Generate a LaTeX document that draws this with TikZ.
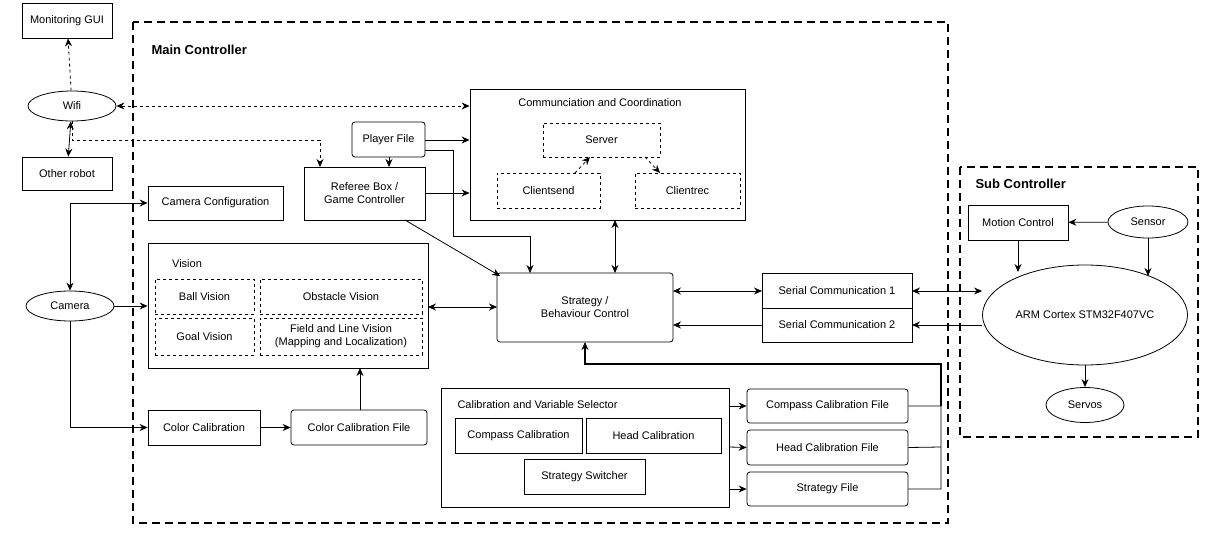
\documentclass[tikz,border=0pt]{standalone}
\usepackage{fontspec}
\setmainfont{Liberation Sans}
\usetikzlibrary{arrows.meta,shapes.geometric}
\begin{document}
\begin{tikzpicture}[x=1pt,y=-1pt,font=\fontsize{11}{13}\selectfont,
  bx/.style={draw,line width=0.8pt,inner sep=0pt},
  rbx/.style={bx,rounded corners=3pt},
  dbx/.style={draw,dashed,line width=0.6pt,inner sep=0pt},
  el/.style={draw,ellipse,line width=0.8pt,inner sep=0pt},
  ar/.style={-{Stealth[length=8pt,width=7pt]},line width=0.8pt},
  dar/.style={{Stealth[length=8pt,width=7pt]}-{Stealth[length=8pt,width=7pt]},line width=0.8pt},
  big/.style={draw,line width=1.5pt,dash pattern=on 8pt off 5pt}]
\useasboundingbox (0,0) rectangle (1221,545);
\def\R#1#2#3#4#5#6#7{\node[#1,minimum width={#4-#2},minimum height={#5-#3},align=center] (#6) at ({(#2+#4)/2},{(#3+#5)/2}) {#7};}
% containers
\draw[big] (133,22) rectangle (948,523);
\node[anchor=west,font=\fontsize{13}{15}\bfseries\selectfont] (mct) at (148,50) {Main Controller};
\draw[big] (960,167) rectangle (1198,437);
\node[anchor=west,font=\fontsize{13}{15}\bfseries\selectfont] (sct) at (972,184) {Sub Controller};
% left
\R{bx}{22}{3}{112}{38}{gui}{Monitoring GUI}
\node[el,minimum width=88,minimum height=30] (wifi) at (72,106) {Wifi};
\R{bx}{22}{157}{112}{190}{other}{Other robot}
\node[el,minimum width=88,minimum height=30] (cam) at (70,306) {Camera};
% main
\R{bx}{148}{186}{283}{220}{camcfg}{Camera Configuration}
\R{rbx}{352}{122}{425}{157}{player}{Player File}
\R{bx}{304}{167}{425}{220}{ref}{Referee Box /\\Game Controller}
\R{bx}{470}{89}{745}{220}{comm}{}
\node (commt) at (600,103) {Communciation and Coordination};
\R{dbx}{543}{123}{660}{157}{server}{Server}
\R{dbx}{497}{173}{600}{208}{csend}{Clientsend}
\R{dbx}{635}{173}{740}{208}{crec}{Clientrec}
\R{bx}{148}{243}{428}{368}{vision}{}
\node (vt) at (187,264) {Vision};
\R{dbx}{155}{279}{254}{314}{ball}{Ball Vision}
\R{dbx}{260}{279}{422}{314}{obst}{Obstacle Vision}
\R{dbx}{155}{318}{254}{355}{goal}{Goal Vision}
\R{dbx}{260}{318}{422}{355}{field}{Field and Line Vision\\(Mapping and Localization)}
\R{rbx}{497}{273}{673}{342}{strat}{Strategy /\\Behaviour Control}
\R{bx}{762}{273}{912}{308}{ser1}{Serial Communication 1}
\R{bx}{762}{308}{912}{342}{ser2}{Serial Communication 2}
\R{bx}{148}{410}{260}{445}{colcal}{Color Calibration}
\R{rbx}{291}{410}{427}{445}{colfile}{Color Calibration File}
\R{bx}{441}{388}{729}{507}{calib}{}
\node[anchor=west] (calt) at (454,405) {Calibration and Variable Selector};
\R{bx}{455}{418}{582}{453}{compc}{Compass Calibration}
\R{bx}{586}{418}{721}{453}{headc}{Head Calibration}
\R{bx}{524}{459}{645}{494}{sswitch}{Strategy Switcher}
\R{rbx}{747}{389}{908}{423}{compf}{Compass Calibration File}
\R{rbx}{747}{430}{908}{465}{headf}{Head Calibration File}
\R{rbx}{747}{472}{908}{506}{stratf}{Strategy File}
% sub
\R{bx}{968}{205}{1068}{240}{motion}{Motion Control}
\node[el,minimum width=80,minimum height=32] (sensor) at (1148,222) {Sensor};
\node[el,minimum width=205,minimum height=100] (arm) at (1085,315) {ARM Cortex STM32F407VC};
\node[el,minimum width=78,minimum height=35] (servos) at (1085,405) {Servos};
% connectors
\draw[ar,dashed] (wifi) -- (gui);
\draw[dar] (wifi) -- (other);
\draw[dar,dashed] (wifi.east) -- (wifi.east -| comm.west);
\draw[ar,dashed] (wifi.south) |- (320,140) -- (320,167);
\draw[ar] (player.east |- 0,140) -- (comm.west |- 0,140);
\draw[ar] (player.south -| 389,0) -- (389,167);
\draw[ar] (425,150) -| (453,236) -| (530,273);
\draw[ar] (ref.east |- 0,193) -- (comm.west |- 0,193);
\draw[ar] (405,220) -- (500,276);
\draw[dar] (615,220) -- (615,273);
\draw[ar,dashed] (575,173) -- (590,157);
\draw[ar,dashed] (645,157) -- (660,173);
\draw[dar] (camcfg.west) -| (cam.north);
\draw[ar] (cam.east) -- (vision.west |- cam.east);
\draw[ar] (cam.south) |- (colcal.west);
\draw[ar] (colcal) -- (colfile);
\draw[ar] (360,410) -- (360,368);
\draw[dar] (428,307) -- (497,307);
\draw[dar] (673,291) -- (762,291);
\draw[ar] (762,325) -- (673,325);
\draw[dar] (912,291) -- (arm.west |- 0,291);
\draw[ar] (arm.west |- 0,325) -- (912,325);
\draw[ar] (729,406) -- (compf.west);
\draw[ar] (729,447) -- (headf.west);
\draw[ar] (729,489) -- (stratf.west);
\draw[line width=0.8pt] (compf.east) -- (941,406) (headf.east) -- (941,447) (stratf.east) -- (941,489) -- (941,406);
\draw[ar,line width=1.4pt] (941,406) -- (941,364) -| (585,342);
\draw[ar] (sensor) -- (motion);
\draw[ar] (1018,240) -- (1018,272);
\draw[ar] (sensor.south) -- (1148,276);
\draw[ar] (arm.south) -- (servos.north);
\end{tikzpicture}
\end{document}
